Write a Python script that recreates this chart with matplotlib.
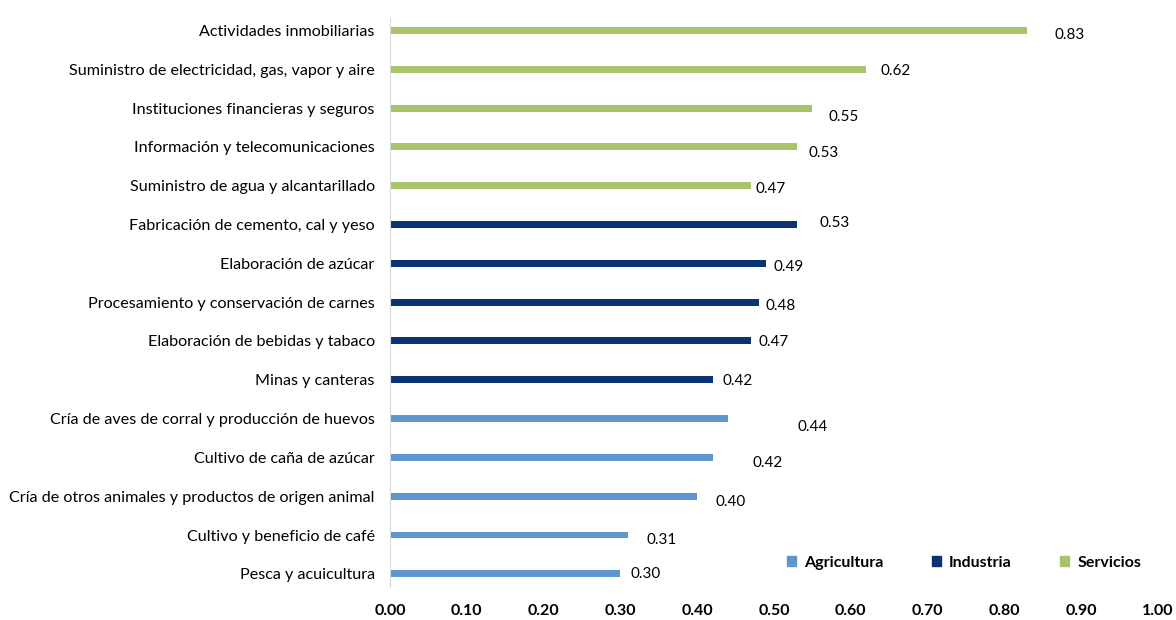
import matplotlib.pyplot as plt
from matplotlib.patches import Patch

plt.rcParams['font.family'] = ['Lato', 'DejaVu Sans']

# sectors, bottom to top
sectores = [
    "Pesca y acuicultura",
    "Cultivo y beneficio de café",
    "Cría de otros animales y productos de origen animal",
    "Cultivo de caña de azúcar",
    "Cría de aves de corral y producción de huevos",
    "Minas y canteras",
    "Elaboración de bebidas y tabaco",
    "Procesamiento y conservación de carnes",
    "Elaboración de azúcar",
    "Fabricación de cemento, cal y yeso",
    "Suministro de agua y alcantarillado",
    "Información y telecomunicaciones",
    "Instituciones financieras y seguros",
    "Suministro de electricidad, gas, vapor y aire",
    "Actividades inmobiliarias",
]
valores = [0.30, 0.31, 0.40, 0.42, 0.44,
           0.42, 0.47, 0.48, 0.49, 0.53,
           0.47, 0.53, 0.55, 0.62, 0.83]
grupos = ["Agricultura"] * 5 + ["Industria"] * 5 + ["Servicios"] * 5

colores = {"Agricultura": "#5F96CD", "Industria": "#0B3275", "Servicios": "#A7C46B"}

# label nudges in pixels (dx, dy) relative to the bar end
nudges = [(10, 0), (18, -5), (18, -6), (40, -6), (70, -8),
          (10, -1), (8, -1), (7, -4), (7, -4), (22, 1),
          (5, -3), (11, -6), (16, -9), (14, -2), (27, -5)]

fig = plt.figure(figsize=(11.76, 6.2), dpi=100)
ax = fig.add_axes([0.3316, 0.0532, 0.6531, 0.9178])

ypos = list(range(len(sectores)))
ax.barh(ypos, valores, height=0.18, color=[colores[g] for g in grupos])

for y, v, (dx, dy) in zip(ypos, valores, nudges):
    ax.annotate(f"{v:.2f}", (v, y), xytext=(dx, dy), textcoords='offset pixels',
                ha='left', va='center', fontsize=11, color='#000000')

ax.set_xlim(0, 1.0)
ax.set_ylim(-0.34, 14.32)
ax.set_xticks([i / 10 for i in range(11)])
ax.set_xticklabels([f"{i / 10:.2f}" for i in range(11)], fontweight='bold', fontsize=11.5)
ax.set_yticks(ypos)
ax.set_yticklabels(sectores, fontsize=11.6)
ax.tick_params(axis='both', length=0)
ax.tick_params(axis='x', pad=12)
ax.tick_params(axis='y', pad=11)

for s in ['top', 'right', 'bottom']:
    ax.spines[s].set_visible(False)
ax.spines['left'].set_color('#D9D9D9')

handles = [Patch(color=colores[g], label=g) for g in ["Agricultura", "Industria", "Servicios"]]
leg = ax.legend(handles=handles, ncol=3, frameon=False, loc='lower right',
                bbox_to_anchor=(0.997, 0.005), handlelength=0.6, handleheight=0.6,
                columnspacing=3.0, handletextpad=0.5, prop={'weight': 'bold', 'size': 11.5})

fig.savefig("out.png", dpi=100)
